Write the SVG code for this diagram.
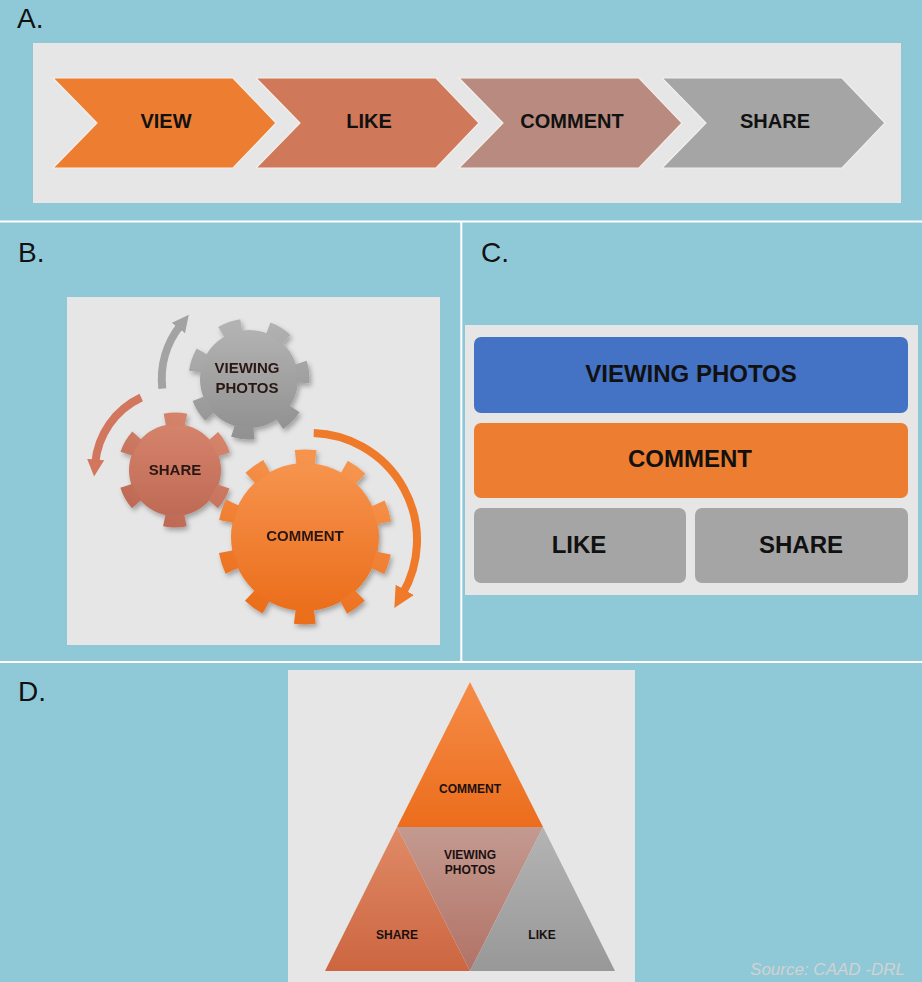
<svg xmlns="http://www.w3.org/2000/svg" width="922" height="982" viewBox="0 0 922 982">
  <style>
    .sec { font-family: "Liberation Sans", Arial, sans-serif; font-size: 28px; fill: #111; }
    .lbl { font-family: "Liberation Sans", Arial, sans-serif; font-weight: bold; fill: #111; text-anchor: middle; }
    .a { font-size: 20px; }
    .c { font-size: 24px; }
    .b { font-size: 15px; fill: #2a1812; }
    .d { font-size: 12px; fill: #1a1010; }
    .panel { fill: #E6E6E6; }
    .div { stroke: #FFFFFF; stroke-width: 2; }
    .chev { stroke: #F4EFEA; stroke-width: 1.2; }
    .arc { fill: none; stroke-width: 8; }
  </style>
  <defs>
    <linearGradient id="gGray" x1="0" y1="0" x2="0" y2="1">
      <stop offset="0" stop-color="#B2B2B2"/><stop offset="1" stop-color="#929292"/>
    </linearGradient>
    <linearGradient id="gShare" x1="0" y1="0" x2="0" y2="1">
      <stop offset="0" stop-color="#D6836C"/><stop offset="1" stop-color="#BE6A55"/>
    </linearGradient>
    <linearGradient id="gComment" x1="0" y1="0" x2="0" y2="1">
      <stop offset="0" stop-color="#F6944E"/><stop offset="1" stop-color="#EB6E1C"/>
    </linearGradient>
    <linearGradient id="tOrange" x1="0" y1="0" x2="0" y2="1">
      <stop offset="0" stop-color="#F58C48"/><stop offset="1" stop-color="#EC6D1C"/>
    </linearGradient>
    <linearGradient id="tShare" x1="0" y1="0" x2="0" y2="1">
      <stop offset="0" stop-color="#E08A66"/><stop offset="1" stop-color="#CC6641"/>
    </linearGradient>
    <linearGradient id="tView" x1="0" y1="0" x2="0" y2="1">
      <stop offset="0" stop-color="#C39A90"/><stop offset="1" stop-color="#B27266"/>
    </linearGradient>
    <linearGradient id="tLike" x1="0" y1="0" x2="0" y2="1">
      <stop offset="0" stop-color="#B4B4B4"/><stop offset="1" stop-color="#989898"/>
    </linearGradient>
    <filter id="shadow" x="-20%" y="-20%" width="140%" height="140%">
      <feDropShadow dx="2" dy="3" stdDeviation="2.5" flood-color="#000" flood-opacity="0.3"/>
    </filter>
    <marker id="mGray" viewBox="0 0 10 10" refX="2" refY="5" markerUnits="userSpaceOnUse" markerWidth="17" markerHeight="17" orient="auto">
      <path d="M0,0 L10,5 L0,10 z" fill="#A3A3A3"/>
    </marker>
    <marker id="mShare" viewBox="0 0 10 10" refX="2" refY="5" markerUnits="userSpaceOnUse" markerWidth="17" markerHeight="17" orient="auto">
      <path d="M0,0 L10,5 L0,10 z" fill="#D2765E"/>
    </marker>
    <marker id="mOrange" viewBox="0 0 10 10" refX="2" refY="5" markerUnits="userSpaceOnUse" markerWidth="21" markerHeight="21" orient="auto">
      <path d="M0,0 L10,5 L0,10 z" fill="#EF7A2A"/>
    </marker>
  </defs>

  <!-- background -->
  <rect x="0" y="0" width="922" height="982" fill="#8FC9D8"/>
  <line class="div" x1="0" y1="221.5" x2="922" y2="221.5"/>
  <line class="div" x1="461.3" y1="221.5" x2="461.3" y2="662"/>
  <line class="div" x1="0" y1="662" x2="922" y2="662"/>

  <!-- Section A -->
  <text class="sec" x="17" y="28">A.</text>
  <rect class="panel" x="33" y="43" width="868" height="160"/>
  <g id="a-view">
    <polygon class="chev" points="53,78 233,78 276,123 233,168 53,168 97,123" fill="#ED7D31"/>
    <text class="lbl a" x="166" y="128">VIEW</text>
  </g>
  <g id="a-like">
    <polygon class="chev" points="256,78 436,78 479,123 436,168 256,168 300,123" fill="#D0785A"/>
    <text class="lbl a" x="369" y="128">LIKE</text>
  </g>
  <g id="a-comment">
    <polygon class="chev" points="459,78 639,78 682,123 639,168 459,168 503,123" fill="#B98A80"/>
    <text class="lbl a" x="572" y="128">COMMENT</text>
  </g>
  <g id="a-share">
    <polygon class="chev" points="662,78 842,78 885,123 842,168 662,168 706,123" fill="#A5A5A5"/>
    <text class="lbl a" x="775" y="128">SHARE</text>
  </g>

  <!-- Section B -->
  <text class="sec" x="18" y="262">B.</text>
  <rect class="panel" x="67" y="297" width="373" height="348"/>
  <g id="b-connectors">
    <path class="arc" d="M162.3,388.6 A87,87 0 0 1 180.4,325.4" stroke="#A3A3A3" marker-end="url(#mGray)"/>
    <path class="arc" d="M141.2,397.5 A80,80 0 0 0 95.3,463" stroke="#D2765E" marker-end="url(#mShare)"/>
    <path class="arc" d="M313.7,433.1 A107,107 0 0 1 402.7,593.5" stroke="#EF7A2A" marker-end="url(#mOrange)"/>
  </g>
  <g id="b-viewing" filter="url(#shadow)">
    <circle cx="249" cy="379" r="49" fill="url(#gGray)"/>
    <circle cx="249" cy="379" r="54" fill="none" stroke="url(#gGray)" stroke-width="13" stroke-dasharray="21 27.47" stroke-dashoffset="10.5" transform="rotate(-7 249 379)"/>
    <text class="lbl b" x="247" y="373">VIEWING</text>
    <text class="lbl b" x="247" y="393">PHOTOS</text>
  </g>
  <g id="b-share" filter="url(#shadow)">
    <circle cx="175" cy="470" r="46" fill="url(#gShare)"/>
    <circle cx="175" cy="470" r="51" fill="none" stroke="url(#gShare)" stroke-width="13" stroke-dasharray="21 32.41" stroke-dashoffset="10.5" transform="rotate(30 175 470)"/>
    <text class="lbl b" x="175" y="475">SHARE</text>
  </g>
  <g id="b-comment" filter="url(#shadow)">
    <circle cx="305" cy="537" r="74" fill="url(#gComment)"/>
    <circle cx="305" cy="537" r="80" fill="none" stroke="url(#gComment)" stroke-width="15" stroke-dasharray="20 30.27" stroke-dashoffset="10" transform="rotate(18 305 537)"/>
    <text class="lbl b" x="305" y="541">COMMENT</text>
  </g>

  <!-- Section C -->
  <text class="sec" x="481" y="262">C.</text>
  <rect class="panel" x="465" y="325" width="453" height="270"/>
  <g id="c-viewing">
    <rect x="474" y="337" width="434" height="76" rx="7" fill="#4472C4"/>
    <text class="lbl c" x="691" y="382">VIEWING PHOTOS</text>
  </g>
  <g id="c-comment">
    <rect x="474" y="423" width="434" height="75" rx="7" fill="#ED7D31"/>
    <text class="lbl c" x="690" y="467">COMMENT</text>
  </g>
  <g id="c-like">
    <rect x="474" y="508" width="212" height="75" rx="7" fill="#A5A5A5"/>
    <text class="lbl c" x="579" y="553">LIKE</text>
  </g>
  <g id="c-share">
    <rect x="695" y="508" width="213" height="75" rx="7" fill="#A5A5A5"/>
    <text class="lbl c" x="801" y="553">SHARE</text>
  </g>

  <!-- Section D -->
  <text class="sec" x="18" y="701">D.</text>
  <rect class="panel" x="288" y="670" width="347" height="312"/>
  <g id="d-comment">
    <polygon points="470,682 397,827 543,827" fill="url(#tOrange)"/>
    <text class="lbl d" x="470" y="793">COMMENT</text>
  </g>
  <g id="d-share">
    <polygon points="397,827 325,971 470,971" fill="url(#tShare)"/>
    <text class="lbl d" x="397" y="939">SHARE</text>
  </g>
  <g id="d-viewing">
    <polygon points="397,827 543,827 470,971" fill="url(#tView)"/>
    <text class="lbl d" x="470" y="859">VIEWING</text>
    <text class="lbl d" x="470" y="874">PHOTOS</text>
  </g>
  <g id="d-like">
    <polygon points="543,827 470,971 615,971" fill="url(#tLike)"/>
    <text class="lbl d" x="542" y="939">LIKE</text>
  </g>

  <text x="905" y="975" text-anchor="end" font-family="'Liberation Sans', Arial, sans-serif" font-style="italic" font-size="17" fill="#D2D2D2">Source: CAAD -DRL</text>
</svg>
